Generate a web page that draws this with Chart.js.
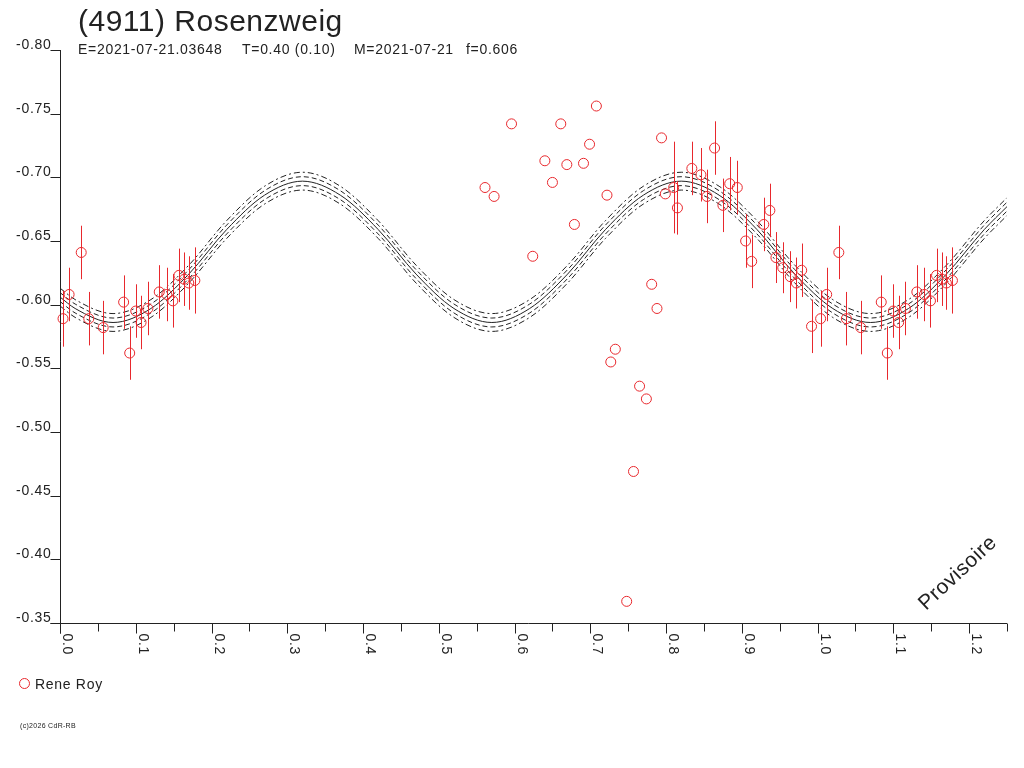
<!DOCTYPE html>
<html>
<head>
<meta charset="utf-8">
<title>(4911) Rosenzweig</title>
<script src="https://cdn.jsdelivr.net/npm/chart.js@4.4.1/dist/chart.umd.min.js"></script>
<style>
  html, body { margin: 0; padding: 0; background: #fff; }
  #wrap { position: relative; width: 1024px; height: 768px; }
</style>
</head>
<body>
<div id="wrap"><canvas id="lc" width="1024" height="768"></canvas></div>
<script>
// observations (Rene Roy): phase, reduced magnitude, error (null = no bar)
const obsPhase = [
  0.004, 0.012, 0.028, 0.038, 0.057, 0.084, 0.092, 0.100, 0.107, 0.116, 0.131, 0.141, 0.149, 0.157, 0.164, 0.170, 0.178,
  0.561, 0.573, 0.596, 0.624, 0.640, 0.650, 0.661, 0.669, 0.679, 0.691, 0.699, 0.708, 0.722, 0.727, 0.733, 0.748, 0.757,
  0.765, 0.774, 0.781, 0.788, 0.794, 0.799,
  0.810, 0.815, 0.834, 0.846, 0.854, 0.864, 0.875, 0.884, 0.894, 0.905, 0.913, 0.929, 0.937, 0.945, 0.954, 0.964, 0.972,
  0.979, 0.992
];
const obsMag = [
  -0.589, -0.608, -0.641, -0.589, -0.582, -0.602, -0.562, -0.595, -0.586, -0.597, -0.610, -0.608, -0.603, -0.623, -0.620, -0.617, -0.619,
  -0.692, -0.685, -0.742, -0.638, -0.713, -0.696, -0.742, -0.710, -0.663, -0.711, -0.726, -0.756, -0.686, -0.555, -0.565, -0.367, -0.469,
  -0.536, -0.526, -0.616, -0.597, -0.731, -0.687,
  -0.692, -0.676, -0.707, -0.702, -0.685, -0.723, -0.678, -0.695, -0.692, -0.650, -0.634, -0.663, -0.674, -0.637, -0.629, -0.622, -0.617,
  -0.627, -0.583
];
const obsErr = [
  0.022, 0.021, 0.021, 0.021, 0.021, 0.021, 0.021, 0.021, 0.021, 0.021, 0.021, 0.021, 0.021, 0.021, 0.021, 0.021, 0.026,
  null, null, null, null, null, null, null, null, null, null, null, null, null, null, null, null, null,
  null, null, null, null, null, null,
  0.036, 0.021, 0.021, 0.021, 0.021, 0.021, 0.021, 0.021, 0.021, 0.021, 0.021, 0.021, 0.021, 0.020, 0.020, 0.020, 0.020,
  0.021, 0.021
];

// fitted light curve and its envelopes
const curvePhase = [0, 0.02, 0.07, 0.12, 0.17, 0.22, 0.27, 0.32, 0.37, 0.42, 0.47, 0.52, 0.57, 0.62,
  0.67, 0.72, 0.77, 0.82, 0.87, 0.92, 0.97, 1.02, 1.07, 1.12, 1.17, 1.22, 1.25];
const fitMid = [-0.606, -0.597, -0.586, -0.597, -0.624, -0.659, -0.686, -0.697, -0.686, -0.659, -0.624, -0.597, -0.586, -0.597,
  -0.624, -0.659, -0.686, -0.697, -0.686, -0.659, -0.624, -0.597, -0.586, -0.597, -0.624, -0.659, -0.677];
const fitInnerHi = [-0.6095, -0.6005, -0.5895, -0.6005, -0.6275, -0.6625, -0.6895, -0.7005, -0.6895, -0.6625, -0.6275, -0.6005, -0.5895, -0.6005,
  -0.6275, -0.6625, -0.6895, -0.7005, -0.6895, -0.6625, -0.6275, -0.6005, -0.5895, -0.6005, -0.6275, -0.6625, -0.6805];
const fitInnerLo = [-0.6025, -0.5935, -0.5825, -0.5935, -0.6205, -0.6555, -0.6825, -0.6935, -0.6825, -0.6555, -0.6205, -0.5935, -0.5825, -0.5935,
  -0.6205, -0.6555, -0.6825, -0.6935, -0.6825, -0.6555, -0.6205, -0.5935, -0.5825, -0.5935, -0.6205, -0.6555, -0.6735];
const fitOuterHi = [-0.613, -0.604, -0.593, -0.604, -0.631, -0.666, -0.693, -0.704, -0.693, -0.666, -0.631, -0.604, -0.593, -0.604,
  -0.631, -0.666, -0.693, -0.704, -0.693, -0.666, -0.631, -0.604, -0.593, -0.604, -0.631, -0.666, -0.684];
const fitOuterLo = [-0.599, -0.590, -0.579, -0.590, -0.617, -0.652, -0.679, -0.690, -0.679, -0.652, -0.617, -0.590, -0.579, -0.590,
  -0.617, -0.652, -0.679, -0.690, -0.679, -0.652, -0.617, -0.590, -0.579, -0.590, -0.617, -0.652, -0.670];

const xTickLabels = ['0.0', '0.1', '0.2', '0.3', '0.4', '0.5', '0.6', '0.7', '0.8', '0.9', '1.0', '1.1', '1.2'];
const xMinorTicks = [0.05, 0.15, 0.25, 0.35, 0.45, 0.55, 0.65, 0.75, 0.85, 0.95, 1.05, 1.15, 1.25];
const yTickLabels = ['-0.80', '-0.75', '-0.70', '-0.65', '-0.60', '-0.55', '-0.50', '-0.45', '-0.40', '-0.35'];

const titleText = '(4911) Rosenzweig';
const subTexts = ['E=2021-07-21.03648', 'T=0.40 (0.10)', 'M=2021-07-21', 'f=0.606'];
const observer = 'Rene Roy';

const RED = 'rgb(232,40,45)';
const INK = '#222';
const FONT = '"Liberation Sans", Arial, sans-serif';

// points with phase < 0.25 are shown again one cycle later
const points = [];
const bars = [];
for (let i = 0; i < obsPhase.length; i++) {
    const copies = obsPhase[i] < 0.25 ? [0, 1] : [0];
    copies.forEach(c => {
        points.push({ x: obsPhase[i] + c, y: obsMag[i] });
        if (obsErr[i] !== null) bars.push({ x: obsPhase[i] + c, y: obsMag[i], e: obsErr[i] });
    });
}

function curve(values) {
    return curvePhase.map((p, i) => ({ x: p, y: values[i] }));
}

function lineSet(values, dash) {
    return {
        type: 'line',
        data: curve(values),
        borderColor: INK,
        borderWidth: 1,
        borderDash: dash,
        pointRadius: 0,
        fill: false,
        cubicInterpolationMode: 'monotone',
        order: 1
    };
}

function text(ctx, s, x, y, size, spacing) {
    ctx.font = size + 'px ' + FONT;
    if ('letterSpacing' in ctx) ctx.letterSpacing = spacing + 'px';
    ctx.fillText(s, x, y);
}

const errorBars = {
    id: 'errorBars',
    afterDatasetsDraw(chart) {
        const ctx = chart.ctx, xs = chart.scales.x, ys = chart.scales.y;
        ctx.save();
        ctx.strokeStyle = RED;
        ctx.lineWidth = 1;
        ctx.beginPath();
        bars.forEach(b => {
            const px = Math.round(xs.getPixelForValue(b.x)) + 0.5;
            ctx.moveTo(px, ys.getPixelForValue(b.y - b.e));
            ctx.lineTo(px, ys.getPixelForValue(b.y + b.e));
        });
        ctx.stroke();
        ctx.restore();
    }
};

const frame = {
    id: 'frame',
    afterDraw(chart) {
        const ctx = chart.ctx, xs = chart.scales.x, ys = chart.scales.y, a = chart.chartArea;
        const x0 = Math.round(a.left) + 0.5, yb = Math.round(a.bottom) + 0.5;
        ctx.save();
        ctx.strokeStyle = INK;
        ctx.lineWidth = 1;
        ctx.beginPath();
        ctx.moveTo(x0, a.top);
        ctx.lineTo(x0, yb + 10);
        ctx.moveTo(x0 - 10, yb);
        ctx.lineTo(a.right, yb);
        yTickLabels.forEach(l => {
            const py = Math.round(ys.getPixelForValue(parseFloat(l))) + 0.5;
            ctx.moveTo(x0 - 10, py);
            ctx.lineTo(x0, py);
        });
        xTickLabels.forEach(l => {
            const px = Math.round(xs.getPixelForValue(parseFloat(l))) + 0.5;
            ctx.moveTo(px, yb);
            ctx.lineTo(px, yb + 10);
        });
        xMinorTicks.forEach(v => {
            const px = Math.round(xs.getPixelForValue(v)) + 0.5;
            ctx.moveTo(px, yb);
            ctx.lineTo(px, yb + 8);
        });
        ctx.stroke();

        ctx.fillStyle = INK;
        // y tick labels sit on top of their tick marks
        ctx.textAlign = 'right';
        ctx.textBaseline = 'alphabetic';
        yTickLabels.forEach(l => {
            text(ctx, l, x0 - 9, Math.round(ys.getPixelForValue(parseFloat(l))) - 1, 14, 0.7);
        });
        // x tick labels turned a quarter clockwise
        xTickLabels.forEach(l => {
            const px = Math.round(xs.getPixelForValue(parseFloat(l)));
            ctx.save();
            ctx.translate(px, yb + 10);
            ctx.rotate(Math.PI / 2);
            ctx.textAlign = 'left';
            ctx.textBaseline = 'bottom';
            text(ctx, l, 0, 0, 14, 0.7);
            ctx.restore();
        });

        // title and header line
        ctx.textAlign = 'left';
        ctx.textBaseline = 'alphabetic';
        text(ctx, titleText, 78, 31, 30, 0.5);
        const subX = [78, 242, 354, 466];
        subTexts.forEach((s, i) => text(ctx, s, subX[i], 54, 14, 0.7));

        // legend
        ctx.strokeStyle = RED;
        ctx.beginPath();
        ctx.arc(24.5, 683.5, 5, 0, Math.PI * 2);
        ctx.stroke();
        text(ctx, observer, 35, 689, 14, 0.7);

        text(ctx, '(c)2026 CdR-RB', 20, 728, 7, 0.3);

        // watermark
        ctx.save();
        ctx.translate(926, 611);
        ctx.rotate(-43 * Math.PI / 180);
        text(ctx, 'Provisoire', 0, 0, 21, 0.5);
        ctx.restore();
        ctx.restore();
    }
};

new Chart(document.getElementById('lc'), {
    type: 'scatter',
    data: {
        datasets: [
            {
                label: observer,
                data: points,
                pointStyle: 'circle',
                pointRadius: 5,
                pointBorderWidth: 1,
                borderColor: RED,
                backgroundColor: 'rgba(0,0,0,0)',
                showLine: false,
                clip: false,
                order: 0
            },
            lineSet(fitOuterHi, [6, 3, 2, 3]),
            lineSet(fitInnerHi, [5, 3]),
            lineSet(fitMid, []),
            lineSet(fitInnerLo, [5, 3]),
            lineSet(fitOuterLo, [6, 3, 2, 3])
        ]
    },
    options: {
        responsive: false,
        animation: false,
        devicePixelRatio: 1,
        layout: { padding: { left: 60, top: 50, right: 17, bottom: 145 } },
        scales: {
            x: { type: 'linear', min: 0, max: 1.25, display: false },
            y: { type: 'linear', min: -0.80, max: -0.35, reverse: true, display: false }
        },
        plugins: {
            legend: { display: false },
            tooltip: { enabled: false }
        }
    },
    plugins: [errorBars, frame]
});
</script>
</body>
</html>
